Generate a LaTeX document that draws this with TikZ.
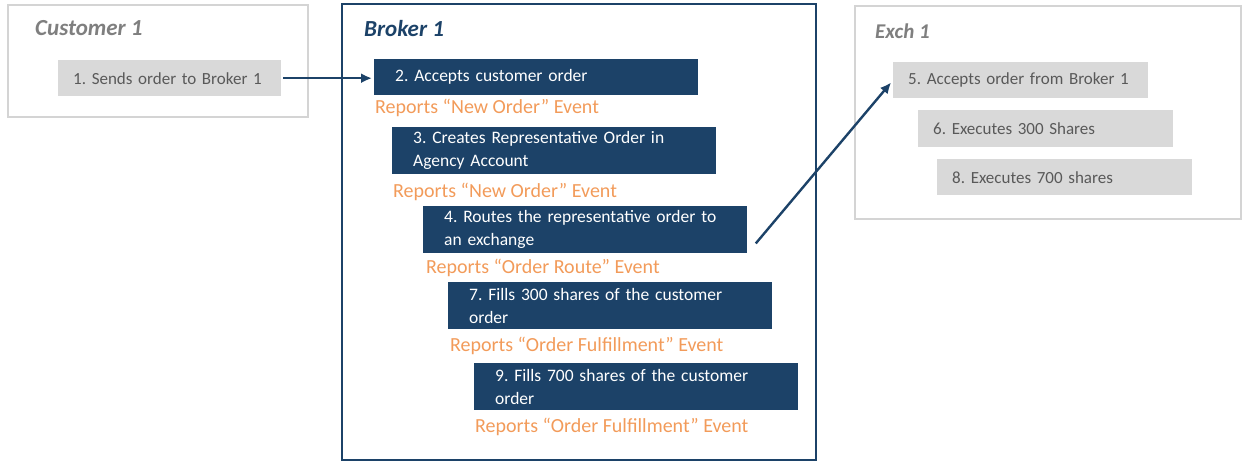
\documentclass[tikz,border=0pt]{standalone}
\usepackage{fontspec}
\setmainfont{Carlito}
\usepackage{xcolor}
\usetikzlibrary{arrows.meta}
\definecolor{navy}{RGB}{28,66,104}
\definecolor{boxgray}{RGB}{217,217,217}
\definecolor{linegray}{RGB}{212,212,212}
\definecolor{txtgray}{RGB}{89,89,89}
\definecolor{ttlgray}{RGB}{127,127,127}
\definecolor{rptorange}{RGB}{242,155,90}
\frenchspacing

\begin{document}
\begin{tikzpicture}[x=1pt,y=-1pt,
  navybox/.style={fill=navy, text=white, anchor=north west, minimum width=324pt, inner xsep=21pt, text width=282pt, align=left, font=\fontsize{17.5}{23}\selectfont},
  graybox/.style={fill=boxgray, text=txtgray, anchor=north west, minimum width=255pt, minimum height=36pt, inner xsep=15pt, text width=225pt, align=left, font=\fontsize{17}{22}\selectfont},
  report/.style={text=rptorange, anchor=west, inner sep=0pt, font=\fontsize{20}{24}\selectfont},
  boxtitle/.style={anchor=west, inner sep=0pt, font=\fontsize{23}{26}\selectfont\bfseries\itshape},
  flow/.style={navy, line width=2.4pt, -{Latex[length=11pt,width=10pt]}}]
\useasboundingbox (0,0) rectangle (1242,462);
% frames
\draw [linegray, line width=2pt] (8,5) rectangle (308,117);
\draw [navy, line width=2pt] (342,4) rectangle (816,460);
\draw [linegray, line width=2pt] (855,6) rectangle (1241,219);
\node [boxtitle, text=ttlgray] (tcust) at (35,28) {Customer 1};
\node [boxtitle, text=navy] (tbrok) at (364,29) {Broker 1};
\node [boxtitle, text=ttlgray, font=\fontsize{21}{24}\selectfont\bfseries\itshape] (texch) at (875,31) {Exch 1};
% customer
\node [graybox, minimum width=223pt, text width=193pt] (n1) at (58,60) {1. Sends order to Broker 1};
% broker
\node [navybox, minimum height=36pt] (n2) at (374,59) {2. Accepts customer order};
\node [report] (r2) at (375,108) {Reports “New Order” Event};
\node [navybox, minimum height=47pt] (n3) at (392,127) {3. Creates Representative Order in\\Agency Account};
\node [report] (r3) at (393,192) {Reports “New Order” Event};
\node [navybox, minimum height=47pt] (n4) at (423,206) {4. Routes the representative order to\\an exchange};
\node [report] (r4) at (426,268) {Reports “Order Route” Event};
\node [navybox, minimum height=47pt] (n7) at (448,282) {7. Fills 300 shares of the customer\\order};
\node [report] (r7) at (450,346) {Reports “Order Fulfillment” Event};
\node [navybox, minimum height=47pt] (n9) at (474,363) {9. Fills 700 shares of the customer\\order};
\node [report] (r9) at (475,427) {Reports “Order Fulfillment” Event};
% exchange
\node [graybox] (n5) at (893,62) {5. Accepts order from Broker 1};
\node [graybox, minimum height=37pt] (n6) at (918,110) {6. Executes 300 Shares};
\node [graybox] (n8) at (937,159) {8. Executes 700 shares};
% arrows
\draw [flow, shorten <=2pt, shorten >=2pt] (n1.east) -- (n1.east -| n2.west);
\draw [flow, shorten <=13pt, shorten >=3pt] (n4.south east) -- (n5.west);
\end{tikzpicture}
\end{document}
